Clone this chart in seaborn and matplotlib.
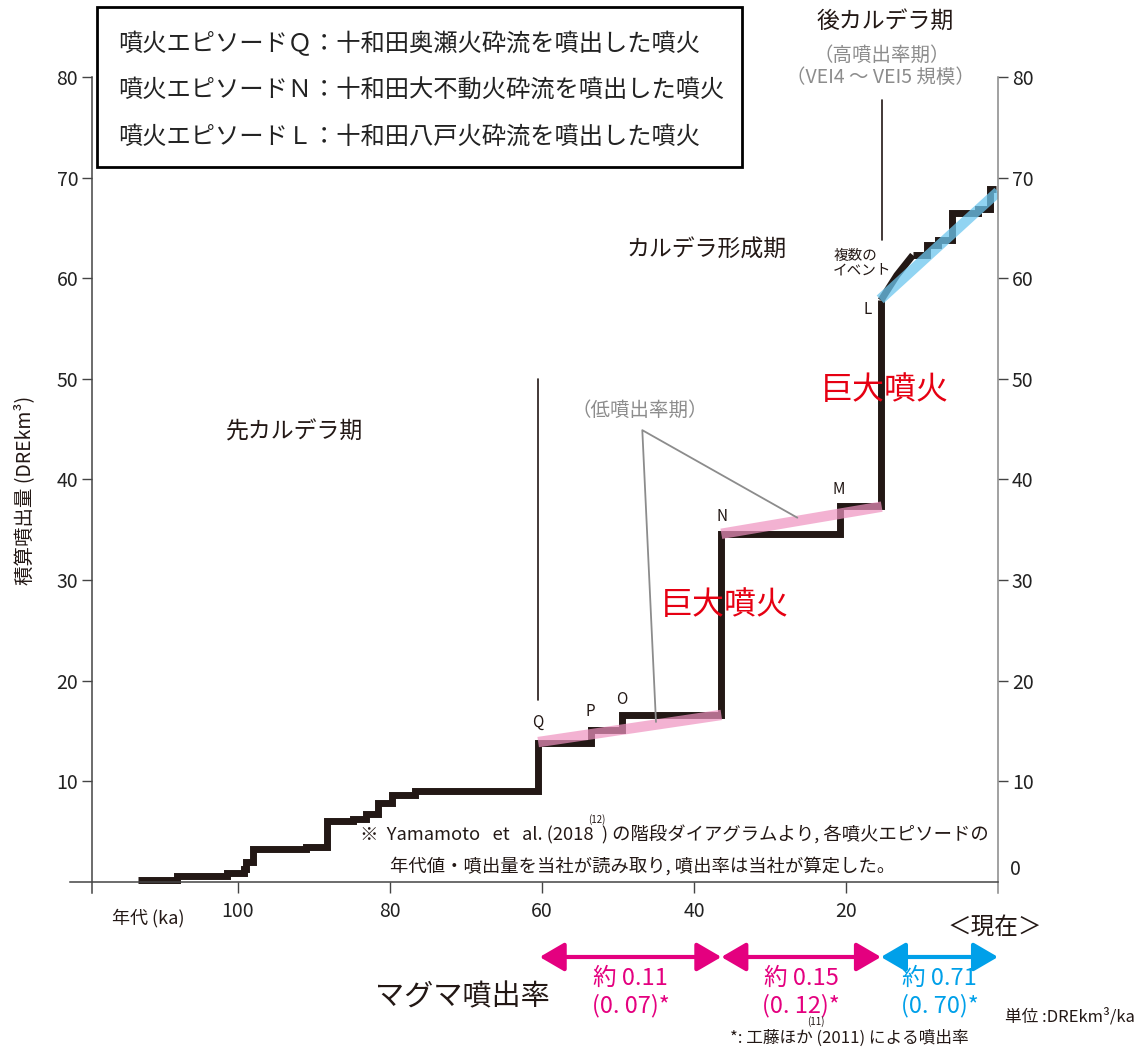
import matplotlib
matplotlib.use('Agg')
import matplotlib.pyplot as plt
import matplotlib.patches as mpatches
import seaborn as sns

# 階段ダイアグラム (先カルデラ期〜カルデラ形成期) : 年代(ka) と 積算噴出量(DREkm3)
step_ka = [113.2, 108.0, 101.4, 99.2, 98.9, 98.0, 91.0, 88.3, 84.9, 83.1, 81.6, 79.7, 76.7,
           60.5, 53.6, 49.5, 36.4, 20.8, 15.4]
step_vol = [0.2, 0.6, 0.9, 1.3, 2.0, 3.3, 3.5, 6.1, 6.3, 6.8, 7.8, 8.6, 9.0,
            13.8, 15.1, 16.6, 34.6, 37.4, 57.8]
# 後カルデラ期 (複数のイベント部分は斜線)
multi_ka = [15.4, 13.3, 11.2]
multi_vol = [57.8, 60.3, 62.3]
post_ka = [11.2, 9.3, 7.9, 6.1, 2.6, 1.0, 0.3]
post_vol = [62.3, 63.3, 63.8, 66.5, 66.9, 68.9, 68.9]

# 噴出率の帯
low1_ka, low1_vol = [60.5, 36.4], [13.9, 16.6]
low2_ka, low2_vol = [36.4, 15.3], [34.6, 37.3]
high_ka, high_vol = [15.5, 0.0], [57.9, 68.6]

# 各エピソードのラベル
ep_labels = ['Q', 'P', 'O', 'N', 'M', 'L']
ep_ka = [60.5, 53.7, 49.5, 36.3, 20.9, 17.1]
ep_vol = [15.9, 16.9, 18.1, 36.3, 39.0, 56.9]

# マグマ噴出率
rate_start = [60.3, 36.4, 15.4]
rate_end = [36.4, 15.4, 0.0]
rate_main = ['約 0.11', '約 0.15', '約 0.71']
rate_sub = ['(0. 07)*', '(0. 12)*', '(0. 70)*']

yticks = [10, 20, 30, 40, 50, 60, 70, 80]
xticks = [100, 80, 60, 40, 20]

legend_lines = ['噴火エピソードＱ：十和田奥瀬火砕流を噴出した噴火',
                '噴火エピソードＮ：十和田大不動火砕流を噴出した噴火',
                '噴火エピソードＬ：十和田八戸火砕流を噴出した噴火']

sns.set_style('ticks')
plt.rcParams['font.family'] = ['Noto Sans CJK JP', 'DejaVu Sans']

black = '#231815'
pink = '#ef92c0'
blue = '#6cc6ee'
magenta = '#e4007f'
cyan = '#00a0e9'
red = '#e60012'
gray = '#8c8c8c'

fig = plt.figure(figsize=(11.47, 10.5), dpi=100)
ax = fig.add_axes([70 / 1147, 1 - 893 / 1050, (998 - 70) / 1147, (893 - 77) / 1050])
ax.set_xlim(122.1, 0)
ax.set_ylim(-1.1, 80)

line_kw = dict(color=black, linewidth=5, solid_joinstyle='miter', solid_capstyle='butt')
sns.lineplot(x=step_ka, y=step_vol, drawstyle='steps-post', sort=False, ax=ax, **line_kw)
sns.lineplot(x=multi_ka, y=multi_vol, sort=False, ax=ax, **line_kw)
sns.lineplot(x=post_ka, y=post_vol, drawstyle='steps-post', sort=False, ax=ax, **line_kw)

band_kw = dict(linewidth=7.5, solid_capstyle='butt', sort=False, ax=ax)
sns.lineplot(x=low1_ka, y=low1_vol, color=pink, alpha=0.7, **band_kw)
sns.lineplot(x=low2_ka, y=low2_vol, color=pink, alpha=0.7, **band_kw)
sns.lineplot(x=high_ka, y=high_vol, color=blue, alpha=0.75, **band_kw)

# 補助線
ax.plot([60.5, 60.5], [18.1, 50.0], color=black, lw=1.2)
ax.plot([15.3, 15.3], [63.8, 77.7], color=black, lw=1.2)
ax.plot([26.4, 46.8, 45.0], [36.2, 44.9, 15.9], color=gray, lw=1.3)

# 軸
ax.spines['top'].set_visible(False)
ax.spines['left'].set_position(('data', 119.2))
ax.spines['bottom'].set_position(('data', 0))
ax.spines['left'].set_color('#444444')
ax.spines['bottom'].set_color('#444444')
ax.spines['right'].set_color('#888888')
for s in ['left', 'bottom', 'right']:
    ax.spines[s].set_linewidth(1.1)
ax.set_yticks(yticks)
ax.set_yticklabels([str(v) for v in yticks])
ax.set_xticks(xticks)
ax.set_xticklabels([str(v) for v in xticks])
ax.tick_params(axis='y', left=True, right=True, labelleft=True, labelright=True,
               direction='out', length=7, width=1, colors='#444444', labelcolor='#222222',
               labelsize=14, pad=3)
ax.tick_params(axis='x', direction='out', length=8, width=1, colors='#444444',
               labelcolor='#222222', labelsize=14, pad=6)
ax.set_xlabel('')
ax.set_ylabel('')
ax.text(-1.6, 1.2, '0', fontsize=14, color='#222222', ha='left', va='center')

# ラベル
for lab, k, v in zip(ep_labels, ep_ka, ep_vol):
    ax.text(k, v, lab, fontsize=11, color=black, ha='center', va='center')

ax.text(92.5, 44.7, '先カルデラ期', fontsize=16.5, color=black, ha='center', va='center')
ax.text(38.3, 62.8, 'カルデラ形成期', fontsize=16.5, color=black, ha='center', va='center')
ax.text(14.9, 85.5, '後カルデラ期', fontsize=16.5, color=black, ha='center', va='center')
ax.text(15.3, 82.2, '（高噴出率期）', fontsize=14, color=gray, ha='center', va='center')
ax.text(15.5, 80.0, '（VEI4 〜 VEI5 規模）', fontsize=14, color=gray, ha='center', va='center')
ax.text(47.1, 46.9, '（低噴出率期）', fontsize=14, color=gray, ha='center', va='center')
ax.text(35.9, 27.5, '巨大噴火', fontsize=23, color=red, ha='center', va='center')
ax.text(14.9, 48.9, '巨大噴火', fontsize=23, color=red, ha='center', va='center')
ax.text(21.7, 61.5, '複数の\nイベント', fontsize=10.5, color=black, ha='left', va='center',
        linespacing=1.0)

# 注記
ax.text(83.9, 4.67, '※  Yamamoto   et   al. (2018  ) の階段ダイアグラムより, 各噴火エピソードの',
        fontsize=13.2, color=black, ha='left', va='center')
ax.text(52.8, 6.2, '(12)', fontsize=7, color=black, ha='center', va='center')
ax.text(80.0, 1.6, '年代値・噴出量を当社が読み取り, 噴出率は当社が算定した。',
        fontsize=13.2, color=black, ha='left', va='center')
ax.text(111.8, -3.6, '年代 (ka)', fontsize=13, color=black, ha='center', va='center')

# マグマ噴出率
for i in range(3):
    c = cyan if i == 2 else magenta
    ax.annotate('', xy=(rate_end[i], -7.46), xytext=(rate_start[i], -7.46),
                arrowprops=dict(arrowstyle='<|-|>,head_length=0.6,head_width=0.35',
                                color=c, lw=3, mutation_scale=25, shrinkA=0, shrinkB=0),
                annotation_clip=False)
    mid = (rate_start[i] + rate_end[i]) / 2
    ax.text(mid, -9.6, rate_main[i], fontsize=17, color=c, ha='center', va='center')
    ax.text(mid, -12.3, rate_sub[i], fontsize=17, color=c, ha='center', va='center')

ax.text(70.5, -11.5, 'マグマ噴出率', fontsize=21, color=black, ha='center', va='center')
ax.text(0.4, -4.5, '＜現在＞', fontsize=17, color=black, ha='center', va='center')
ax.text(-9.5, -13.4, '単位 :DREkm³/ka', fontsize=12, color=black, ha='center', va='center')
ax.text(19.5, -15.5, '*: 工藤ほか (2011) による噴出率', fontsize=12, color=black,
        ha='center', va='center')
ax.text(24.0, -13.9, '(11)', fontsize=7, color=black, ha='center', va='center')

fig.text(25 / 1147, 1 - 490 / 1050, '積算噴出量 (DREkm³)', fontsize=14, rotation=90,
         ha='center', va='center', color=black)

# 凡例の枠
fig.patches.append(mpatches.Rectangle((97 / 1147, 1 - 167 / 1050), 645 / 1147, 160 / 1050,
                                      transform=fig.transFigure, fill=False,
                                      edgecolor='black', linewidth=2))
for i, t in enumerate(legend_lines):
    fig.text(118 / 1147, 1 - (44 + 46.5 * i) / 1050, t, fontsize=17.5, color='#222222',
             ha='left', va='center')

fig.savefig('out.png', dpi=100)
